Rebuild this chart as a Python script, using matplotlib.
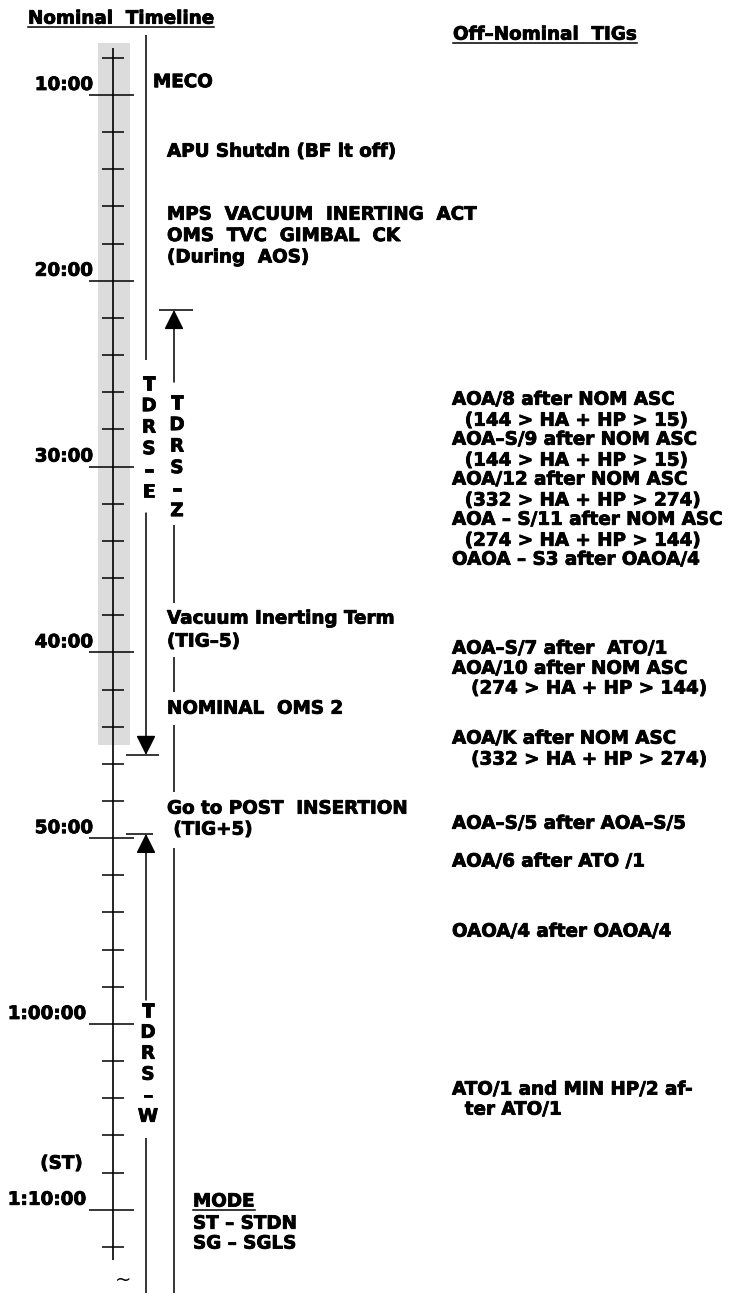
import matplotlib.pyplot as plt
import matplotlib.patheffects as pe

plt.rcParams['font.family'] = ['DejaVu Sans']
plt.rcParams['font.weight'] = 'bold'

# timeline scale, minutes after lift-off
tick_minutes = [8, 10, 12, 14, 16, 18, 20, 22, 24, 26, 28, 30, 32, 34, 36, 38, 40,
                42, 44, 46, 48, 50, 52, 54, 56, 58, 60, 62, 64, 66, 68, 70, 72]
major_minutes = [10, 20, 30, 40, 50, 60, 70]
major_labels = ['10:00', '20:00', '30:00', '40:00', '50:00', '1:00:00', '1:10:00']
axis_span = (7.47, 72.7)
shade_span = (7.2, 44.98)

# nominal events (minutes)
nominal_times = [9.22, 12.96, 16.35, 17.5, 18.65, 38.09, 39.33, 42.94, 48.32, 49.45]
nominal_text = ['MECO', 'APU Shutdn (BF lt off)', 'MPS  VACUUM  INERTING  ACT',
                'OMS  TVC  GIMBAL  CK', '(During  AOS)', 'Vacuum Inerting Term',
                '(TIG–5)', 'NOMINAL  OMS 2', 'Go to POST  INSERTION', ' (TIG+5)']

# off-nominal TIGs (minutes)
offnom_times = [26.31, 27.44, 28.46, 29.59, 30.61, 31.74, 32.77, 33.90, 34.92,
                39.71, 40.79, 41.86, 44.55, 45.68, 49.13, 51.17, 54.94, 63.44, 64.52]
offnom_text = ['AOA/8 after NOM ASC', '  (144 > HA + HP > 15)',
               'AOA–S/9 after NOM ASC', '  (144 > HA + HP > 15)',
               'AOA/12 after NOM ASC', '  (332 > HA + HP > 274)',
               'AOA – S/11 after NOM ASC', '  (274 > HA + HP > 144)',
               'OAOA – S3 after OAOA/4',
               'AOA–S/7 after  ATO/1', 'AOA/10 after NOM ASC', '   (274 > HA + HP > 144)',
               'AOA/K after NOM ASC', '   (332 > HA + HP > 274)',
               'AOA–S/5 after AOA–S/5', 'AOA/6 after ATO /1', 'OAOA/4 after OAOA/4',
               'ATO/1 and MIN HP/2 af-', '  ter ATO/1']

# TDRS coverage brackets (minutes)
tdrs_e_lines = [(6.77, 24.26)]
tdrs_e_arrow = (32.5, 45.52)
tdrs_z_arrow = (25.45, 21.57)
tdrs_z_lines = [(33.14, 37.34), (40.25, 42.13), (43.91, 47.51), (50.53, 74.48)]
tdrs_w_arrow = (58.71, 49.77)
tdrs_w_lines = [(66.13, 74.48)]
tdrs_e_letters = ['T', 'D', 'R', 'S', '–', 'E']
tdrs_z_letters = ['T', 'D', 'R', 'S', '–', 'Z']
tdrs_w_letters = ['T', 'D', 'R', 'S', '–', 'W']
tdrs_e_top, tdrs_z_top, tdrs_w_top = 25.50, 26.52, 59.25

mode_times = [69.47, 70.66, 71.73]
mode_text = ['MODE', 'ST – STDN', 'SG – SGLS']

FS = 13.2
CAP = 0.36   # half cap height in minutes
PITCH = 1.157
heavy = [pe.withStroke(linewidth=0.6, foreground='k')]

fig = plt.figure(figsize=(7.3, 12.93), dpi=100)
ax = fig.add_axes([0, 0, 1, 1])
ax.set_xlim(0, 730)
ax.set_ylim(74.48, 4.887)
ax.axis('off')


def txt(x, y, s, **kw):
    kw.setdefault('ha', 'left')
    kw.setdefault('va', 'baseline')
    kw.setdefault('fontsize', FS)
    return ax.text(x, y, s, path_effects=heavy, **kw)


# shaded TDRS-E band and the time axis
ax.fill_between([98, 130], shade_span[0], shade_span[1], color='#dcdcdc', lw=0)
ax.vlines(113, axis_span[0], axis_span[1], color='k', lw=1.2)
for m in tick_minutes:
    if m in major_minutes:
        ax.hlines(m, 89, 134, color='k', lw=1.1)
    else:
        ax.hlines(m, 102, 124, color='k', lw=1.1)
for m, lab in zip(major_minutes, major_labels):
    xr = 86 if len(lab) > 5 else 93
    txt(xr, m - 0.27, lab, ha='right')
txt(83, 67.43 + CAP, '(ST)', ha='right')


# coverage lines
def seg(x, spans):
    for a, b in spans:
        ax.vlines(x, a, b, color='k', lw=1.1)


def arrow(x, a, b):
    ax.annotate('', xy=(x, b), xytext=(x, a),
                arrowprops=dict(arrowstyle='-|>', color='k', lw=1.1,
                                mutation_scale=30, shrinkA=0, shrinkB=0))


seg(146, tdrs_e_lines)
arrow(146, *tdrs_e_arrow)
ax.hlines(tdrs_e_arrow[1], 126, 159, color='k', lw=1.1)
arrow(174, *tdrs_z_arrow)
ax.hlines(tdrs_z_arrow[1], 159, 193, color='k', lw=1.1)
seg(174, tdrs_z_lines)
arrow(146, *tdrs_w_arrow)
ax.hlines(tdrs_w_arrow[1], 126, 153, color='k', lw=1.1)
seg(146, tdrs_w_lines)

for x, top, letters, p in [(149, tdrs_e_top, tdrs_e_letters, PITCH),
                           (177, tdrs_z_top, tdrs_z_letters, PITCH),
                           (148, tdrs_w_top, tdrs_w_letters, 1.13)]:
    for i, ch in enumerate(letters):
        txt(x, top + i * p + CAP, ch, ha='center')

# nominal events
for i, (t, s) in enumerate(zip(nominal_times, nominal_text)):
    x = 153 if i == 0 else 167
    txt(x, t + CAP, s)

# off-nominal column
for t, s in zip(offnom_times, offnom_text):
    txt(452, t + CAP, s)

# mode legend
heads = [txt(193, t + CAP, s) for t, s in zip(mode_times, mode_text)]

h1 = txt(28, 5.80 + CAP, 'Nominal  Timeline')
h2 = txt(453, 6.66 + CAP, 'Off–Nominal  TIGs')
ax.text(123, 73.78, '~', ha='center', va='center', fontsize=14, fontweight='normal')

# underlines below the headings
fig.canvas.draw()
inv = ax.transData.inverted()
for tx in [h1, h2, heads[0]]:
    bb = tx.get_window_extent()
    (x0, y0), (x1, _) = inv.transform([(bb.x0, bb.y0), (bb.x1, bb.y1)])
    yb = tx.get_position()[1] + 0.2
    ax.plot([x0, x1], [yb, yb], color='k', lw=1.1)

fig.savefig('out.png', dpi=100)
